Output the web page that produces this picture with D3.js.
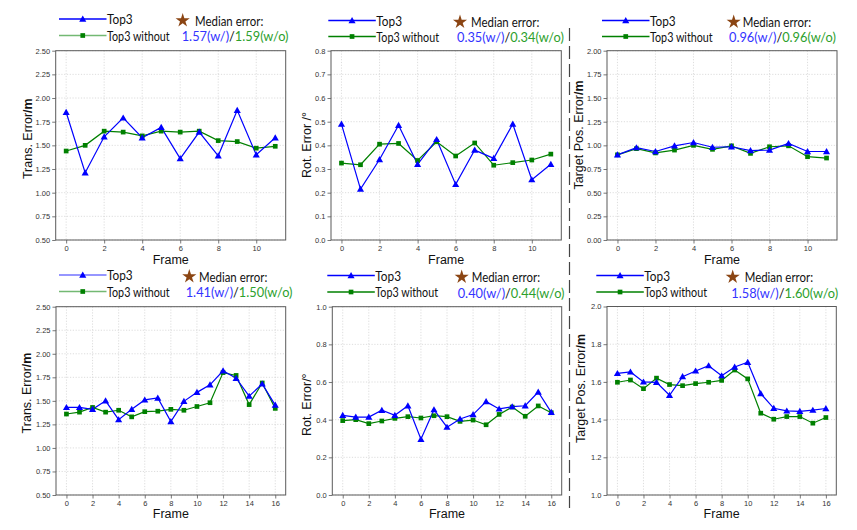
<!DOCTYPE html>
<html><head><meta charset="utf-8">
<script src="https://cdn.jsdelivr.net/npm/d3@7/dist/d3.min.js"></script>
<style>body{margin:0;background:#fff}svg{display:block}</style>
</head><body><svg id="c" width="857" height="530"></svg>
<script>
// ---------- data ----------
const framesTop = [0,1,2,3,4,5,6,7,8,9,10,11];
const framesBottom = [0,1,2,3,4,5,6,7,8,9,10,11,12,13,14,15,16];
const xTicksTop = [0,2,4,6,8,10];
const xTicksBottom = [0,2,4,6,8,10,12,14,16];

const transTop3A    = [1.85,1.21,1.59,1.79,1.58,1.69,1.36,1.64,1.39,1.87,1.40,1.58];
const transWithoutA = [1.44,1.50,1.65,1.64,1.60,1.65,1.64,1.65,1.55,1.54,1.47,1.49];
const rotTop3A      = [0.49,0.215,0.34,0.485,0.32,0.425,0.235,0.38,0.345,0.49,0.255,0.32];
const rotWithoutA   = [0.325,0.318,0.405,0.408,0.336,0.415,0.355,0.41,0.316,0.327,0.338,0.363];
const posTop3A      = [0.90,0.975,0.935,0.995,1.03,0.98,0.985,0.945,0.95,1.02,0.935,0.935];
const posWithoutA   = [0.90,0.965,0.92,0.95,1.00,0.958,0.995,0.915,0.985,0.995,0.88,0.866];

const transTop3B    = [1.43,1.43,1.41,1.50,1.30,1.41,1.51,1.53,1.28,1.495,1.59,1.67,1.82,1.74,1.55,1.68,1.455];
const transWithoutB = [1.36,1.38,1.43,1.38,1.40,1.33,1.385,1.39,1.41,1.40,1.44,1.48,1.80,1.77,1.46,1.69,1.42];
const rotTop3B      = [0.423,0.414,0.414,0.45,0.423,0.474,0.296,0.453,0.36,0.404,0.427,0.496,0.457,0.469,0.474,0.547,0.439];
const rotWithoutB   = [0.395,0.40,0.379,0.393,0.407,0.416,0.409,0.421,0.416,0.391,0.398,0.373,0.428,0.467,0.418,0.473,0.437];
const posTop3B      = [1.645,1.653,1.60,1.598,1.529,1.628,1.658,1.686,1.633,1.679,1.704,1.538,1.46,1.446,1.444,1.45,1.459];
const posWithoutB   = [1.598,1.61,1.564,1.62,1.586,1.58,1.591,1.598,1.608,1.663,1.616,1.434,1.402,1.416,1.416,1.381,1.411];

const yTicksTrans = [0.50,0.75,1.00,1.25,1.50,1.75,2.00,2.25,2.50];
const yTicksRotA  = [0.0,0.1,0.2,0.3,0.4,0.5,0.6,0.7,0.8];
const yTicksPosA  = [0.00,0.25,0.50,0.75,1.00,1.25,1.50,1.75,2.00];
const yTicksRotB  = [0.0,0.2,0.4,0.6,0.8,1.0];
const yTicksPosB  = [1.0,1.2,1.4,1.6,1.8,2.0];

const seriesNames = ["Top3","Top3 without"];
const medianLabel = "Median error:";
const mediansWith    = ["1.57","0.35","0.96","1.41","0.40","1.58"];
const mediansWithout = ["1.59","0.34","0.96","1.50","0.44","1.60"];
const yLabelMain = ["Trans. Error","Rot. Error /°","Target Pos. Error","Trans. Error","Rot. Error/°","Target Pos. Error"];
const yLabelUnit = ["/m","","/m","/m","","/m"];
const xLabel = "Frame";

// ---------- panels ----------
const panels = [
  {frames:framesTop, xt:xTicksTop, a:transTop3A, b:transWithoutA, yd:[0.5,2.5], yt:yTicksTrans, fmt:".2f"},
  {frames:framesTop, xt:xTicksTop, a:rotTop3A, b:rotWithoutA, yd:[0,0.8], yt:yTicksRotA, fmt:".1f"},
  {frames:framesTop, xt:xTicksTop, a:posTop3A, b:posWithoutA, yd:[0,2], yt:yTicksPosA, fmt:".2f"},
  {frames:framesBottom, xt:xTicksBottom, a:transTop3B, b:transWithoutB, yd:[0.5,2.5], yt:yTicksTrans, fmt:".2f"},
  {frames:framesBottom, xt:xTicksBottom, a:rotTop3B, b:rotWithoutB, yd:[0,1], yt:yTicksRotB, fmt:".1f"},
  {frames:framesBottom, xt:xTicksBottom, a:posTop3B, b:posWithoutB, yd:[1,2], yt:yTicksPosB, fmt:".1f"},
];
// layout (pixel positions)
const layout = [
  {l:55.7,r:285.7,t:50.7,b:240, lg:59,    st:182.7, md:195,   va:181.7, r1:19,   r2:35.5, ylx:28,    yly:138.7, fy:259.5, fadeA:false, fadeB:true},
  {l:331, r:561.3,t:50.7,b:240, lg:328.3, st:460,   md:471,   va:457,   r1:20.5, r2:36.5, ylx:306.7, yly:145,   fy:259.5, fadeA:false, fadeB:false},
  {l:607, r:837,  t:50.7,b:240, lg:602,   st:733.7, md:742.7, va:729,   r1:20.5, r2:36.5, ylx:579.3, yly:135,   fy:259.5, fadeA:false, fadeB:false},
  {l:56,  r:285.7,t:306.7,b:495,lg:59,    st:189.3, md:199,   va:185.7, r1:275,  r2:291.5,ylx:26.7,  yly:393,   fy:514,   fadeA:true,  fadeB:true},
  {l:332.3,r:561.7,t:306.7,b:495,lg:327.3,st:461.7, md:471.7, va:457.7, r1:275.5,r2:292,  ylx:306.7, yly:404.7, fy:514,   fadeA:false, fadeB:false},
  {l:607, r:836.3,t:306.5,b:495,lg:596.3, st:732.7, md:744.7, va:731.3, r1:275.5,r2:292,  ylx:580.7, yly:388.5, fy:514,   fadeA:false, fadeB:false},
];
const textWidths = {name0:25.7, name1:62.7, median:68.3};

const BLUE="#0000ff", GREEN="#008000";
const svg = d3.select("#c");
const sansTick = "'Liberation Sans', Arial, sans-serif";
const legFont = "Lato, 'Open Sans', sans-serif";
const tri = d3.symbol().type(d3.symbolTriangle).size(22);
const sq = d3.symbol().type(d3.symbolSquare).size(22);
const star = d3.symbol().type(d3.symbolStar).size(62);

panels.forEach((p,i)=>{
  const L = layout[i];
  const n = p.frames.length-1;
  const x = d3.scaleLinear().domain([-0.05*n, n*1.05]).range([L.l, L.r]);
  const y = d3.scaleLinear().domain(p.yd).range([L.b, L.t]);
  const g = svg.append("g");

  // grid
  g.append("g").selectAll("line").data(p.xt).join("line")
    .attr("x1",d=>x(d)).attr("x2",d=>x(d)).attr("y1",L.t).attr("y2",L.b)
    .attr("stroke","#cfcfcf").attr("stroke-width",0.7).attr("stroke-dasharray","1.2,1.6");
  g.append("g").selectAll("line").data(p.yt).join("line")
    .attr("y1",d=>y(d)).attr("y2",d=>y(d)).attr("x1",L.l).attr("x2",L.r)
    .attr("stroke","#cfcfcf").attr("stroke-width",0.7).attr("stroke-dasharray","1.2,1.6");

  // axes
  const xa = d3.axisBottom(x).tickValues(p.xt).tickSize(3.5).tickPadding(2).tickFormat(d3.format("d"));
  const ya = d3.axisLeft(y).tickValues(p.yt).tickSize(3.5).tickPadding(2).tickFormat(d3.format(p.fmt));
  const gx = g.append("g").attr("transform",`translate(0,${L.b})`).call(xa);
  const gy = g.append("g").attr("transform",`translate(${L.l},0)`).call(ya);
  [gx,gy].forEach(a=>{
    a.select(".domain").remove();
    a.selectAll(".tick line").attr("stroke","#555").attr("stroke-width",0.8);
    a.selectAll(".tick text").attr("fill","#333").style("font-family",sansTick).style("font-size","7.5px");
  });

  // series
  const line = d3.line().x((d,j)=>x(p.frames[j])).y(d=>y(d));
  g.append("path").datum(p.b).attr("d",line).attr("fill","none").attr("stroke",GREEN).attr("stroke-width",1.2);
  g.append("path").datum(p.a).attr("d",line).attr("fill","none").attr("stroke",BLUE).attr("stroke-width",1.2);
  g.append("g").selectAll("path").data(p.b).join("path")
    .attr("d",sq).attr("transform",(d,j)=>`translate(${x(p.frames[j])},${y(d)})`).attr("fill",GREEN);
  g.append("g").selectAll("path").data(p.a).join("path")
    .attr("d",tri).attr("transform",(d,j)=>`translate(${x(p.frames[j])},${y(d)+0.6})`).attr("fill",BLUE);

  // frame (spines)
  g.append("rect").attr("x",L.l).attr("y",L.t).attr("width",L.r-L.l).attr("height",L.b-L.t)
    .attr("fill","none").attr("stroke","#5a5a5a").attr("stroke-width",1);

  // axis labels
  g.append("text").attr("x",(L.l+L.r)/2).attr("y",L.fy).attr("text-anchor","middle")
    .attr("dominant-baseline","central").style("font-family",sansTick).style("font-size","12.5px")
    .attr("fill","#111").text(xLabel);
  const yl = g.append("text").attr("transform",`translate(${L.ylx},${L.yly}) rotate(-90)`)
    .attr("text-anchor","middle").attr("dominant-baseline","central")
    .style("font-family",sansTick).style("font-size","12.5px").attr("fill","#111");
  yl.append("tspan").text(yLabelMain[i]);
  if (yLabelUnit[i]) yl.append("tspan").attr("font-weight","bold").text(yLabelUnit[i]);

  // legend
  const lw = 47.5;
  const rows = [
    {y:L.r1, c:BLUE, sym:tri, name:seriesNames[0], w:textWidths.name0, fade:L.fadeA},
    {y:L.r2, c:GREEN, sym:sq, name:seriesNames[1], w:textWidths.name1, fade:L.fadeB},
  ];
  rows.forEach(rw=>{
    g.append("line").attr("x1",L.lg).attr("x2",L.lg+lw).attr("y1",rw.y).attr("y2",rw.y)
      .attr("stroke",rw.c).attr("stroke-width",1.3).attr("stroke-opacity",rw.fade?0.55:1);
    g.append("path").attr("d",rw.sym).attr("transform",`translate(${L.lg+lw/2},${rw.y+(rw.sym===tri?0.6:0)})`).attr("fill",rw.c);
    g.append("text").attr("x",L.lg+lw+0.5).attr("y",rw.y).attr("dominant-baseline","central")
      .attr("textLength",rw.w).attr("lengthAdjust","spacingAndGlyphs")
      .style("font-family",legFont).style("font-size","13px").attr("fill","#111").text(rw.name);
  });
  g.append("path").attr("d",star).attr("transform",`translate(${L.st},${L.r1+1.5})`).attr("fill","#8b4513");
  g.append("text").attr("x",L.md).attr("y",L.r1+1.5).attr("dominant-baseline","central")
    .attr("textLength",textWidths.median).attr("lengthAdjust","spacingAndGlyphs")
    .style("font-family",legFont).style("font-size","13px").attr("fill","#111").text(medianLabel);
  const vt = g.append("text").attr("x",L.va).attr("y",L.r2+0.5).attr("dominant-baseline","central")
    .style("font-family",legFont).style("font-size","12.8px");
  vt.append("tspan").attr("fill","#3333ff").text(mediansWith[i]+"(w/)");
  vt.append("tspan").attr("fill","#111").text("/");
  vt.append("tspan").attr("fill","#2ca02c").text(mediansWithout[i]+"(w/o)");
});

// dashed separator
svg.append("line").attr("x1",569.5).attr("x2",569.5).attr("y1",28).attr("y2",508)
  .attr("stroke","#444").attr("stroke-width",1.2).attr("stroke-dasharray","13,5");
</script></body></html>
